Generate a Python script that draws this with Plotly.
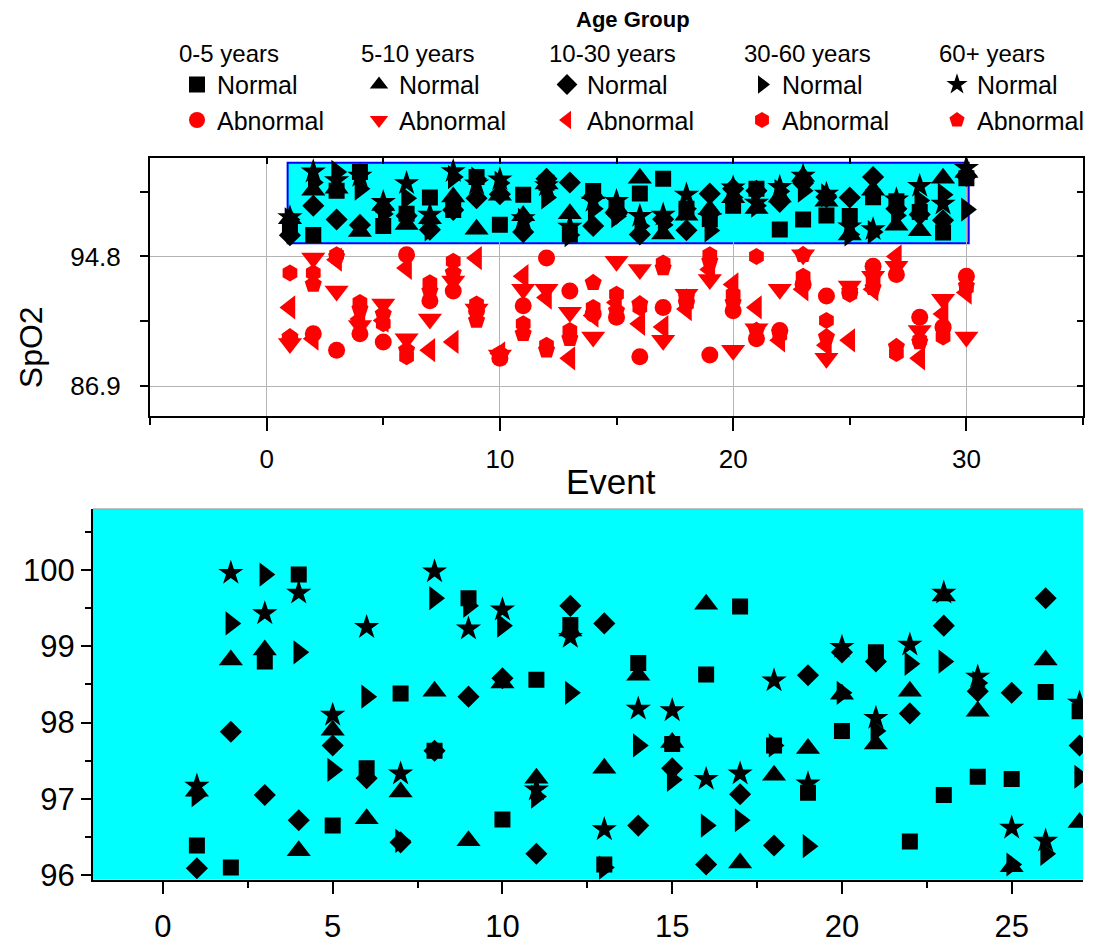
import plotly.graph_objects as go

# ---------------- data ----------------
events = list(range(1, 31))
groups = ["0-5 years", "5-10 years", "10-30 years", "30-60 years", "60+ years"]
normal_symbols = ["square", "triangle-up", "diamond", "triangle-right", "star"]
abnormal_symbols = ["circle", "triangle-down", "triangle-left", "hexagon", "pentagon"]

normal_0_5 = [96.39, 96.10, 98.80, 99.94, 96.65, 97.40, 98.38, 97.63, 99.63, 96.73,
              98.56, 99.28, 96.14, 98.78, 97.72, 98.63, 99.52, 97.70, 97.08, 97.89,
              98.92, 96.44, 97.05, 97.29, 97.26, 98.40, 98.15, 97.50, 96.25, 99.56]
normal_5_10 = [97.10, 98.82, 98.95, 96.32, 97.90, 96.74, 97.09, 98.41, 96.45, 98.52,
               97.27, 99.20, 97.40, 98.62, 97.74, 99.55, 96.16, 97.31, 97.66, 98.37,
               97.72, 98.41, 99.66, 98.15, 96.11, 98.82, 96.69, 96.37, 99.56, 99.90]
normal_10_30 = [96.09, 97.88, 97.05, 96.72, 97.70, 97.27, 96.43, 97.63, 98.34, 98.58,
                96.28, 99.53, 99.30, 96.65, 97.40, 96.14, 97.06, 96.39, 98.62, 98.92,
                98.80, 98.12, 99.27, 98.41, 98.39, 99.63, 97.70, 97.35, 97.00, 99.70]
normal_30_60 = [97.05, 99.30, 99.94, 98.92, 97.38, 98.34, 96.45, 99.63, 99.53, 99.27,
                97.03, 98.39, 96.10, 97.70, 97.25, 96.65, 96.72, 97.70, 96.38, 98.39,
                97.89, 98.77, 98.80, 98.52, 96.14, 96.28, 97.29, 98.20, 98.56, 97.65]
normal_60p = [97.17, 99.96, 99.43, 99.70, 98.10, 99.25, 97.33, 99.98, 99.23, 99.48,
              97.12, 99.12, 96.60, 98.18, 98.16, 97.26, 97.33, 98.55, 97.20, 98.99,
              98.06, 99.02, 99.70, 98.60, 96.62, 96.45, 98.26, 99.08, 98.00, 100.17]

abnormal_0_5 = [89.8, 90.1, 89.1, 90.1, 89.6, 94.9, 92.1, 92.7, 91.5, 88.6,
                91.8, 94.7, 92.7, 91.3, 91.1, 88.7, 91.7, 92.1, 88.8, 91.5,
                89.8, 90.3, 93.1, 92.4, 92.6, 94.2, 93.7, 91.1, 90.5, 93.6]
abnormal_5_10 = [89.5, 94.7, 92.7, 90.6, 91.9, 89.8, 91.0, 93.3, 91.6, 88.8,
                 92.8, 92.8, 91.4, 89.9, 94.5, 94.0, 89.7, 92.5, 93.4, 89.1,
                 90.4, 92.8, 94.9, 88.6, 93.0, 93.6, 94.2, 90.3, 92.2, 89.9]
abnormal_10_30 = [91.7, 89.8, 94.6, 91.0, 90.9, 94.1, 89.1, 89.6, 94.7, 88.9,
                  93.6, 92.3, 88.6, 91.2, 92.0, 90.7, 90.5, 91.6, 94.0, 93.1,
                  91.7, 89.7, 92.8, 89.4, 89.7, 92.8, 94.8, 88.6, 91.3, 92.6]
abnormal_30_60 = [93.8, 93.8, 94.9, 92.0, 90.7, 88.7, 93.2, 94.5, 91.9, 88.9,
                  90.7, 89.4, 90.3, 91.7, 92.5, 91.7, 94.4, 91.9, 94.9, 92.5,
                  94.8, 90.0, 93.6, 90.9, 92.5, 93.3, 88.9, 89.7, 89.9, 92.9]
abnormal_60p = [89.9, 93.1, 94.8, 91.6, 91.3, 89.1, 92.7, 93.8, 90.9, 88.7,
                90.1, 89.1, 89.8, 93.2, 91.5, 91.9, 94.1, 92.3, 94.5, 92.0,
                90.3, 90.2, 94.9, 89.9, 92.7, 92.9, 89.3, 89.6, 90.3, 93.0]

normal_series = [normal_0_5, normal_5_10, normal_10_30, normal_30_60, normal_60p]
abnormal_series = [abnormal_0_5, abnormal_5_10, abnormal_10_30, abnormal_30_60, abnormal_60p]

# zoomed region highlighted in the upper panel
zoom_x = [0.9, 30.1]
zoom_y = [95.6, 100.5]

top_x_ticks = [0, 10, 20, 30]
top_y_ticks = [86.9, 94.8]
bottom_x_ticks = [0, 5, 10, 15, 20, 25]
bottom_y_ticks = [96, 97, 98, 99, 100]

# ---------------- figure ----------------
W, H = 1093, 948
FONT = "Liberation Sans"
normal_sizes = [16, 21, 17, 21, 19]
abnormal_sizes = [17, 21, 21, 17, 18]
legend_left_px = [177, 359, 547, 742, 937]

fig = go.Figure()

for i, g in enumerate(groups):
    leg = "legend" if i == 0 else f"legend{i + 1}"
    fig.add_trace(go.Scatter(
        x=events, y=normal_series[i], mode="markers", name="Normal",
        marker=dict(symbol=normal_symbols[i], size=normal_sizes[i], color="black"),
        legend=leg, xaxis="x", yaxis="y"))
    fig.add_trace(go.Scatter(
        x=events, y=abnormal_series[i], mode="markers", name="Abnormal",
        marker=dict(symbol=abnormal_symbols[i], size=abnormal_sizes[i], color="red"),
        legend=leg, xaxis="x", yaxis="y"))

for i, g in enumerate(groups):
    fig.add_trace(go.Scatter(
        x=events, y=normal_series[i], mode="markers", name="Normal",
        marker=dict(symbol=normal_symbols[i], size=normal_sizes[i], color="black"),
        showlegend=False, xaxis="x2", yaxis="y2", cliponaxis=True))

# dummy traces to activate mirrored inner-tick axes
fig.add_trace(go.Scatter(x=[None], y=[None], xaxis="x3", yaxis="y", showlegend=False, hoverinfo="skip"))
fig.add_trace(go.Scatter(x=[None], y=[None], xaxis="x", yaxis="y3", showlegend=False, hoverinfo="skip"))

top_dom_x = [150 / W, 1083 / W]
top_dom_y = [1 - 422 / H, 1 - 160 / H]
bot_dom_x = [93 / W, 1083 / W]
bot_dom_y = [1 - 892 / H, 1 - 516 / H]

tickfont_top = dict(family=FONT, size=26, color="black")
tickfont_bot = dict(family=FONT, size=31, color="black")

layout = dict(
    width=W, height=H, autosize=False,
    margin=dict(l=0, r=0, t=0, b=0),
    paper_bgcolor="white", plot_bgcolor="white",
    font=dict(family=FONT, color="black"),
    xaxis=dict(domain=top_dom_x, anchor="y", range=[-5, 35],
               tickvals=top_x_ticks, ticks="outside", ticklen=13, tickwidth=2, tickcolor="black",
               minor=dict(dtick=5, tick0=0, ticks="outside", ticklen=7, tickwidth=2, tickcolor="black", showgrid=False),
               showgrid=True, gridcolor="#b4b4b4", gridwidth=1, zeroline=False,
               showline=True, linecolor="black", linewidth=2, mirror=True,
               tickfont=tickfont_top, ticklabelstandoff=6),
    yaxis=dict(domain=top_dom_y, anchor="x", range=[85.08, 100.8],
               tickvals=top_y_ticks, ticks="outside", ticklen=8, tickwidth=2, tickcolor="black",
               minor=dict(dtick=3.95, tick0=86.9, ticks="outside", ticklen=8, tickwidth=2, tickcolor="black", showgrid=False),
               showgrid=True, gridcolor="#b4b4b4", gridwidth=1, zeroline=False,
               showline=True, linecolor="black", linewidth=2, mirror=True,
               tickfont=tickfont_top, ticklabelstandoff=14),
    xaxis3=dict(overlaying="x", side="top", anchor="y", range=[-5, 35],
                tick0=0, dtick=5, ticks="inside", ticklen=6, tickwidth=2, tickcolor="black",
                showticklabels=False, showgrid=False, zeroline=False, showline=False),
    yaxis3=dict(overlaying="y", side="right", anchor="x", range=[85.08, 100.8],
                tick0=86.9, dtick=3.95, ticks="inside", ticklen=6, tickwidth=2, tickcolor="black",
                showticklabels=False, showgrid=False, zeroline=False, showline=False),
    xaxis2=dict(domain=bot_dom_x, anchor="y2", range=[-2.06, 27.1],
                tickvals=bottom_x_ticks, ticks="outside", ticklen=12, tickwidth=2, tickcolor="black",
                minor=dict(dtick=2.5, tick0=0, ticks="outside", ticklen=6, tickwidth=2, tickcolor="black", showgrid=False),
                showgrid=False, zeroline=False,
                showline=True, linecolor="black", linewidth=2,
                tickfont=tickfont_bot, ticklabelstandoff=6),
    yaxis2=dict(domain=bot_dom_y, anchor="x2", range=[95.94, 100.80],
                tickvals=bottom_y_ticks, ticks="outside", ticklen=10, tickwidth=2, tickcolor="black",
                minor=dict(dtick=0.5, tick0=96, ticks="outside", ticklen=6, tickwidth=2, tickcolor="black", showgrid=False),
                showgrid=False, zeroline=False,
                showline=True, linecolor="black", linewidth=2,
                tickfont=tickfont_bot),
    shapes=[
        dict(type="rect", xref="x", yref="y", x0=zoom_x[0], x1=zoom_x[1], y0=zoom_y[0], y1=zoom_y[1],
             fillcolor="#00FFFF", line=dict(color="blue", width=2), layer="below"),
        dict(type="rect", xref="x2 domain", yref="y2 domain", x0=0, x1=1, y0=0, y1=1,
             fillcolor="#00FFFF", line=dict(width=0), layer="below"),
        dict(type="line", xref="x2 domain", yref="y2 domain", x0=0, x1=1, y0=1, y1=1,
             line=dict(color="#999999", width=1), layer="below"),
    ],
    annotations=[
        dict(text="<b>Age Group</b>", x=633 / W, y=1 - 20 / H, xref="paper", yref="paper",
             showarrow=False, xanchor="center", yanchor="middle", font=dict(family=FONT, size=22)),
        dict(text="Event", x=611 / W, y=1 - 488 / H, xref="paper", yref="paper",
             showarrow=False, xanchor="center", yanchor="middle", font=dict(family=FONT, size=35)),
        dict(text="SpO2", x=31 / W, y=1 - 352 / H, xref="paper", yref="paper", textangle=-90,
             showarrow=False, xanchor="center", yanchor="middle", font=dict(family=FONT, size=32)),
    ],
)

for i, g in enumerate(groups):
    key = "legend" if i == 0 else f"legend{i + 1}"
    layout[key] = dict(
        title=dict(text=g, font=dict(family=FONT, size=24, color="black")),
        x=legend_left_px[i] / W, xanchor="left", y=1 - 31 / H, yanchor="top",
        orientation="v", bgcolor="rgba(0,0,0,0)", borderwidth=0,
        font=dict(family=FONT, size=25, color="black"), itemwidth=30, tracegroupgap=0,
    )

fig.update_layout(**layout)
fig.write_html("out.html")
